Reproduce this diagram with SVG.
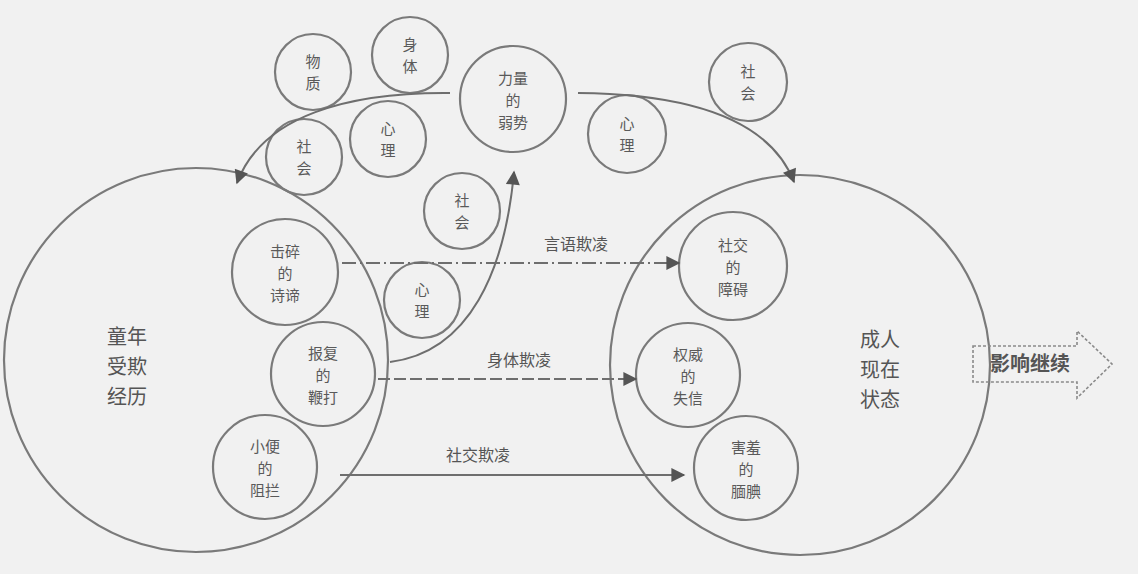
<svg xmlns="http://www.w3.org/2000/svg" width="1138" height="574" viewBox="0 0 1138 574">
<defs>
<style>
.c{fill:none;stroke:#7a7a7a;stroke-width:2.2}
.t{font-family:"Noto Sans CJK SC","Noto Sans CJK JP",sans-serif;font-size:15px;fill:#5a5a5a;text-anchor:middle}
.b{font-family:"Noto Sans CJK SC","Noto Sans CJK JP",sans-serif;font-size:20px;fill:#555;text-anchor:middle}
.l{font-family:"Noto Sans CJK SC","Noto Sans CJK JP",sans-serif;font-size:16px;fill:#555;text-anchor:middle}
.k{fill:none;stroke:#6e6e6e;stroke-width:2}
</style>
<marker id="ah2" viewBox="0 0 10 10" refX="9" refY="5" markerWidth="16" markerHeight="14" markerUnits="userSpaceOnUse" orient="auto"><path d="M0,0 L10,5 L0,10 z" fill="#555"/></marker>
</defs>
<rect width="1138" height="574" fill="#f1f1f1"/>
<g id="childhood"><circle class="c" cx="196" cy="360" r="192"/><text class="b" x="127" y="344">童年</text><text class="b" x="127" y="374">受欺</text><text class="b" x="127" y="404">经历</text></g>
<g id="adult"><circle class="c" cx="800" cy="365" r="190"/><text class="b" x="880" y="347">成人</text><text class="b" x="880" y="377">现在</text><text class="b" x="880" y="407">状态</text></g>
<g id="n-jisui"><circle class="c" cx="285" cy="272" r="53"/><text class="t" x="285" y="257">击碎</text><text class="t" x="285" y="279">的</text><text class="t" x="285" y="301">诗谛</text></g>
<g id="n-baofu"><circle class="c" cx="323" cy="374" r="52"/><text class="t" x="323" y="359">报复</text><text class="t" x="323" y="381">的</text><text class="t" x="323" y="403">鞭打</text></g>
<g id="n-xiaobian"><circle class="c" cx="265" cy="467" r="52"/><text class="t" x="265" y="452">小便</text><text class="t" x="265" y="474">的</text><text class="t" x="265" y="496">阻拦</text></g>
<g id="n-xinli1"><circle class="c" cx="422" cy="300" r="38"/><text class="t" x="422" y="295">心</text><text class="t" x="422" y="317">理</text></g>
<g id="n-shehui1"><circle class="c" cx="462" cy="211" r="38"/><text class="t" x="462" y="206">社</text><text class="t" x="462" y="228">会</text></g>
<g id="n-wuzhi"><circle class="c" cx="313" cy="72" r="38"/><text class="t" x="313" y="67">物</text><text class="t" x="313" y="89">质</text></g>
<g id="n-shenti"><circle class="c" cx="410" cy="55" r="38"/><text class="t" x="410" y="50">身</text><text class="t" x="410" y="72">体</text></g>
<g id="n-shehui2"><circle class="c" cx="304" cy="157" r="38"/><text class="t" x="304" y="152">社</text><text class="t" x="304" y="174">会</text></g>
<g id="n-xinli2"><circle class="c" cx="388" cy="139" r="38"/><text class="t" x="388" y="134">心</text><text class="t" x="388" y="156">理</text></g>
<g id="n-liliang"><circle class="c" cx="513" cy="99" r="53"/><text class="t" x="513" y="84">力量</text><text class="t" x="513" y="106">的</text><text class="t" x="513" y="128">弱势</text></g>
<g id="n-xinli3"><circle class="c" cx="627" cy="134" r="39"/><text class="t" x="627" y="129">心</text><text class="t" x="627" y="151">理</text></g>
<g id="n-shehui3"><circle class="c" cx="748" cy="82" r="39"/><text class="t" x="748" y="77">社</text><text class="t" x="748" y="99">会</text></g>
<g id="n-shejiao"><circle class="c" cx="733" cy="266" r="54"/><text class="t" x="733" y="251">社交</text><text class="t" x="733" y="273">的</text><text class="t" x="733" y="295">障碍</text></g>
<g id="n-quanwei"><circle class="c" cx="688" cy="375" r="52"/><text class="t" x="688" y="360">权威</text><text class="t" x="688" y="382">的</text><text class="t" x="688" y="404">失信</text></g>
<g id="n-haixiu"><circle class="c" cx="746" cy="468" r="52"/><text class="t" x="746" y="453">害羞</text><text class="t" x="746" y="475">的</text><text class="t" x="746" y="497">腼腆</text></g>
<g id="n-yingxiang"><path d="M973,346 L1077,346 L1077,331 L1112,364 L1077,398 L1077,382 L973,382 Z" fill="none" stroke="#8a8a8a" stroke-width="1.6" stroke-dasharray="3,2"/><text class="b" x="1030" y="371" font-weight="bold" fill="#666">影响继续</text></g>
<g id="connectors">
<path class="k" d="M450,93 C 350,92 262,115 237,183" marker-end="url(#ah2)"/>
<path class="k" d="M578,93 C 690,94 770,120 794,182" marker-end="url(#ah2)"/>
<path class="k" d="M390,362 C 470,352 505,270 514,172" marker-end="url(#ah2)"/>
<path class="k" d="M342,263 L679,263" stroke-dasharray="14,4,2,4" marker-end="url(#ah2)"/>
<path class="k" d="M378,379 L636,379" stroke-dasharray="12,4" marker-end="url(#ah2)"/>
<path class="k" d="M340,475 L684,475" marker-end="url(#ah2)"/>
<text class="l" x="576" y="250">言语欺凌</text>
<text class="l" x="519" y="366">身体欺凌</text>
<text class="l" x="478" y="461">社交欺凌</text>
</g>
</svg>
